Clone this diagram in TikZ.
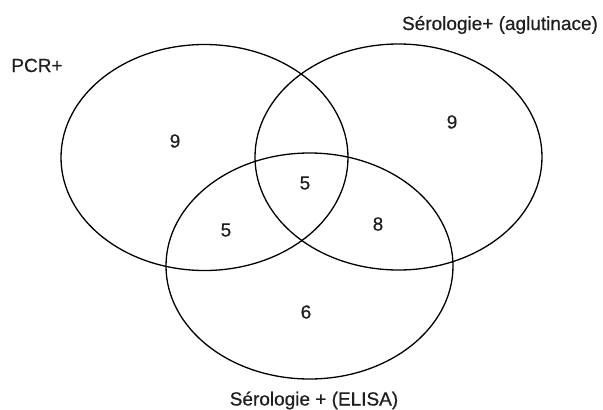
\documentclass[tikz,border=0pt]{standalone}
\usepackage{fontspec}
\setmainfont{Liberation Sans}[BoldFont=Liberation Sans, BoldFeatures={FakeBold=0.6}]
\usetikzlibrary{shapes.geometric}
\tikzset{
  venn/.style={ellipse, draw=black, line width=1.3pt, minimum width=287pt, minimum height=226pt, inner sep=0pt, outer sep=0pt},
  lbl/.style={font=\fontsize{19}{22}\selectfont\bfseries, text=black!88, inner sep=0pt},
  num/.style={font=\fontsize{19}{22}\selectfont\bfseries, text=black!88, inner sep=0pt}
}
\begin{document}
\begin{tikzpicture}[x=1pt,y=-1pt]
\useasboundingbox (0,0) rectangle (603,410);
\node[venn] (pcr) at (204.5,157.5) {};
\node[venn] (aglu) at (398.5,157) {};
\node[venn] (elisa) at (309.5,266) {};
\node[lbl, anchor=base] (tpcr) at (37,72) {PCR+};
\node[lbl, anchor=base] (taglu) at (500,30) {Sérologie+ (aglutinace)};
\node[lbl, anchor=base] (telisa) at (314,405.5) {Sérologie + (ELISA)};
\node[num] (n1) at (175,141) {9};
\node[num] (n2) at (452,122) {9};
\node[num] (n3) at (305,183) {5};
\node[num] (n4) at (226,230) {5};
\node[num] (n5) at (378,224) {8};
\node[num] (n6) at (306,312) {6};
\end{tikzpicture}
\end{document}
